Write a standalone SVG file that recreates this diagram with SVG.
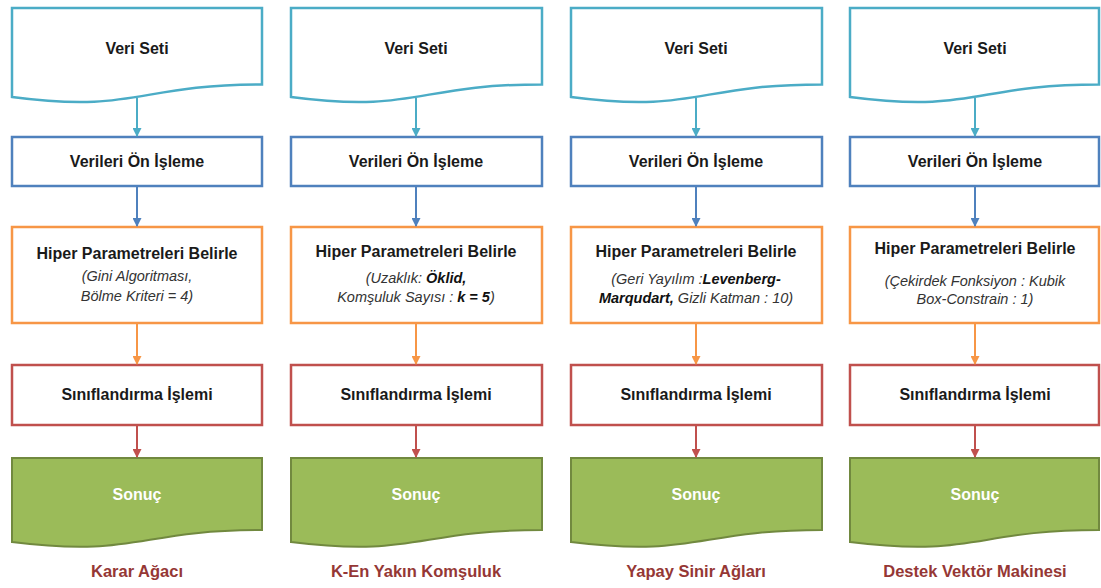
<svg xmlns="http://www.w3.org/2000/svg" width="1101" height="588" viewBox="0 0 1101 588">
<style>
.doc{fill:#fff;stroke:#4BACC6;stroke-width:2.5}
.pre{fill:#fff;stroke:#4F81BD;stroke-width:2.5}
.hyp{fill:#fff;stroke:#F79646;stroke-width:2.5}
.cls{fill:#fff;stroke:#C0504D;stroke-width:2.5}
.res{fill:#9BBB59;stroke:#71893F;stroke-width:2}
.t{font-family:"Liberation Sans",Arial,sans-serif;font-weight:bold;font-size:16px;fill:#1a1a1a;text-anchor:middle}
.i{font-family:"Liberation Sans",Arial,sans-serif;font-style:italic;font-size:14.5px;fill:#333;text-anchor:middle}
.ib{font-weight:bold;fill:#111}
.w{fill:#fff}
.lab{font-family:"Liberation Sans",Arial,sans-serif;font-weight:bold;font-size:16.5px;fill:#953735;text-anchor:middle}
.a1{stroke:#4BACC6;stroke-width:2;marker-end:url(#m1)}
.a2{stroke:#4F81BD;stroke-width:2;marker-end:url(#m2)}
.a3{stroke:#F79646;stroke-width:2;marker-end:url(#m3)}
.a4{stroke:#C0504D;stroke-width:2;marker-end:url(#m4)}
</style>
<defs>
<marker id="m1" markerWidth="9" markerHeight="9" refX="8" refY="4.5" orient="auto" markerUnits="userSpaceOnUse"><path d="M0,0 L9,4.5 L0,9 Z" fill="#4BACC6"/></marker>
<marker id="m2" markerWidth="9" markerHeight="9" refX="8" refY="4.5" orient="auto" markerUnits="userSpaceOnUse"><path d="M0,0 L9,4.5 L0,9 Z" fill="#4F81BD"/></marker>
<marker id="m3" markerWidth="9" markerHeight="9" refX="8" refY="4.5" orient="auto" markerUnits="userSpaceOnUse"><path d="M0,0 L9,4.5 L0,9 Z" fill="#F79646"/></marker>
<marker id="m4" markerWidth="9" markerHeight="9" refX="8" refY="4.5" orient="auto" markerUnits="userSpaceOnUse"><path d="M0,0 L9,4.5 L0,9 Z" fill="#C0504D"/></marker>
</defs>
<rect width="1101" height="588" fill="#fff"/>

<!-- Column 1 -->
<g id="c1-veri"><path class="doc" d="M12,8 H262 V84.4 C137,84.4 137,113.5 12,97 Z"/><text class="t" x="137" y="54">Veri Seti</text></g>
<g id="c1-on"><rect class="pre" x="12" y="137" width="250" height="49"/><text class="t" x="137" y="167">Verileri  Ön İşleme</text></g>
<g id="c1-hyp"><rect class="hyp" x="12" y="227" width="250" height="96"/><text class="t" x="137" y="259">Hiper Parametreleri  Belirle</text><text class="i" x="137" y="281">(Gini Algoritması,</text><text class="i" x="137" y="301">Bölme Kriteri = 4)</text></g>
<g id="c1-cls"><rect class="cls" x="12" y="365" width="250" height="60"/><text class="t" x="137" y="400">Sınıflandırma  İşlemi</text></g>
<g id="c1-res"><path class="res" d="M12,458 H262 V530 C137,530 137,557.6 12,542 Z"/><text class="t w" x="137" y="500">Sonuç</text></g>
<g id="c1-label"><text class="lab" x="137" y="577">Karar Ağacı</text></g>

<!-- Column 2 -->
<g id="c2-veri"><path class="doc" d="M291,8 H542 V84.4 C416,84.4 416,113.5 291,97 Z"/><text class="t" x="416" y="54">Veri Seti</text></g>
<g id="c2-on"><rect class="pre" x="291" y="137" width="251" height="49"/><text class="t" x="416" y="167">Verileri  Ön İşleme</text></g>
<g id="c2-hyp"><rect class="hyp" x="291" y="227" width="251" height="96"/><text class="t" x="416" y="257">Hiper Parametreleri  Belirle</text><text class="i" x="416" y="283">(Uzaklık: <tspan class="ib">Öklid,</tspan></text><text class="i" x="416" y="302">Komşuluk Sayısı : <tspan class="ib">k = 5</tspan>)</text></g>
<g id="c2-cls"><rect class="cls" x="291" y="365" width="251" height="60"/><text class="t" x="416" y="400">Sınıflandırma  İşlemi</text></g>
<g id="c2-res"><path class="res" d="M291,458 H542 V530 C416,530 416,557.6 291,542 Z"/><text class="t w" x="416" y="500">Sonuç</text></g>
<g id="c2-label"><text class="lab" x="416" y="577">K-En Yakın Komşuluk</text></g>

<!-- Column 3 -->
<g id="c3-veri"><path class="doc" d="M571,8 H822 V84.4 C696,84.4 696,113.5 571,97 Z"/><text class="t" x="696" y="54">Veri Seti</text></g>
<g id="c3-on"><rect class="pre" x="571" y="137" width="251" height="49"/><text class="t" x="696" y="167">Verileri  Ön İşleme</text></g>
<g id="c3-hyp"><rect class="hyp" x="571" y="227" width="251" height="96"/><text class="t" x="696" y="257">Hiper Parametreleri  Belirle</text><text class="i" x="696" y="284">(Geri Yayılım :<tspan class="ib">Levenberg-</tspan></text><text class="i" x="696" y="303"><tspan class="ib">Marqudart,</tspan> Gizli Katman : 10)</text></g>
<g id="c3-cls"><rect class="cls" x="571" y="365" width="251" height="60"/><text class="t" x="696" y="400">Sınıflandırma  İşlemi</text></g>
<g id="c3-res"><path class="res" d="M571,458 H822 V530 C696,530 696,557.6 571,542 Z"/><text class="t w" x="696" y="500">Sonuç</text></g>
<g id="c3-label"><text class="lab" x="696" y="577">Yapay Sinir Ağları</text></g>

<!-- Column 4 -->
<g id="c4-veri"><path class="doc" d="M850,8 H1099 V84.4 C975,84.4 975,113.5 850,97 Z"/><text class="t" x="975" y="54">Veri Seti</text></g>
<g id="c4-on"><rect class="pre" x="850" y="137" width="249" height="49"/><text class="t" x="975" y="167">Verileri  Ön İşleme</text></g>
<g id="c4-hyp"><rect class="hyp" x="850" y="227" width="249" height="96"/><text class="t" x="975" y="254">Hiper Parametreleri  Belirle</text><text class="i" x="975" y="286">(Çekirdek Fonksiyon : Kubik</text><text class="i" x="975" y="304">Box-Constrain  : 1)</text></g>
<g id="c4-cls"><rect class="cls" x="850" y="365" width="249" height="60"/><text class="t" x="975" y="400">Sınıflandırma  İşlemi</text></g>
<g id="c4-res"><path class="res" d="M850,458 H1099 V530 C975,530 975,557.6 850,542 Z"/><text class="t w" x="975" y="500">Sonuç</text></g>
<g id="c4-label"><text class="lab" x="975" y="577">Destek Vektör Makinesi</text></g>

<g id="connectors">
<line class="a1" x1="137" y1="98" x2="137" y2="136"/>
<line class="a2" x1="137" y1="187" x2="137" y2="226"/>
<line class="a3" x1="137" y1="324" x2="137" y2="364"/>
<line class="a4" x1="137" y1="426" x2="137" y2="457"/>
<line class="a1" x1="416" y1="98" x2="416" y2="136"/>
<line class="a2" x1="416" y1="187" x2="416" y2="226"/>
<line class="a3" x1="416" y1="324" x2="416" y2="364"/>
<line class="a4" x1="416" y1="426" x2="416" y2="457"/>
<line class="a1" x1="696" y1="98" x2="696" y2="136"/>
<line class="a2" x1="696" y1="187" x2="696" y2="226"/>
<line class="a3" x1="696" y1="324" x2="696" y2="364"/>
<line class="a4" x1="696" y1="426" x2="696" y2="457"/>
<line class="a1" x1="975" y1="98" x2="975" y2="136"/>
<line class="a2" x1="975" y1="187" x2="975" y2="226"/>
<line class="a3" x1="975" y1="324" x2="975" y2="364"/>
<line class="a4" x1="975" y1="426" x2="975" y2="457"/>
</g>
</svg>
